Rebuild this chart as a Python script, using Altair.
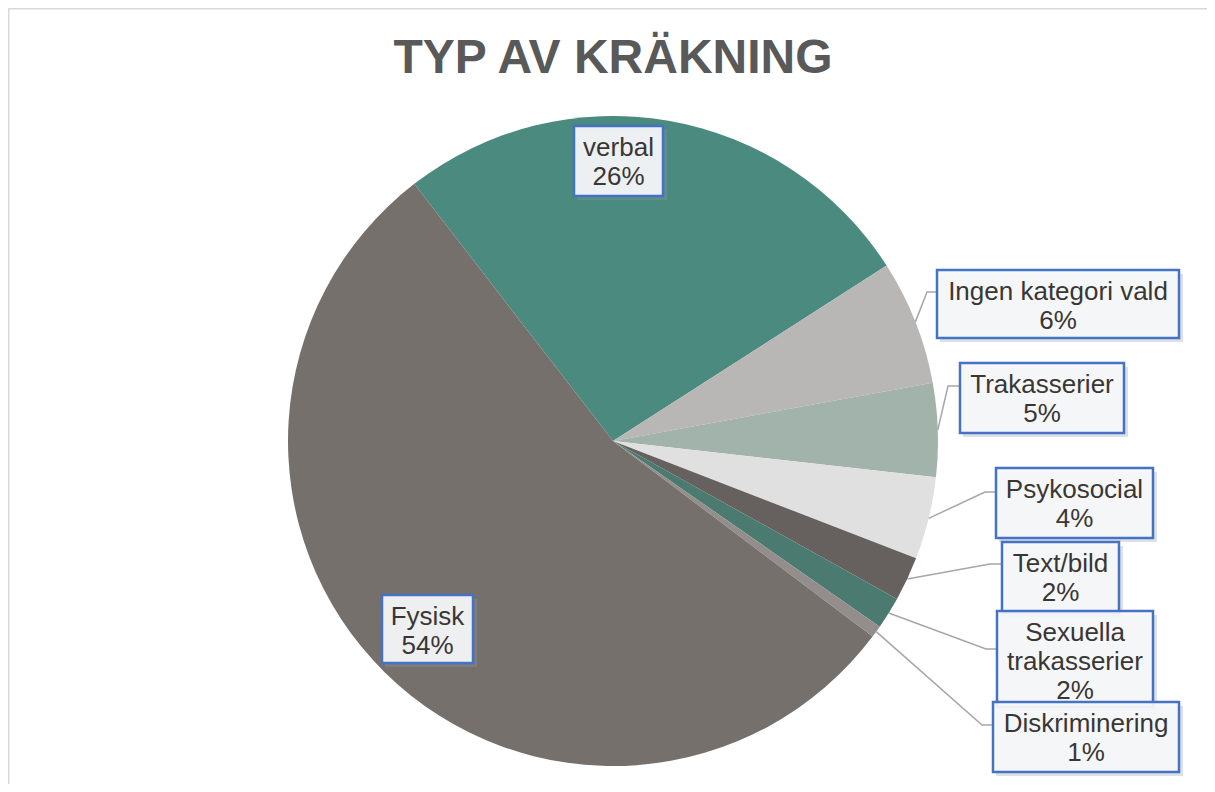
import math
import altair as alt
import pandas as pd

# ---------------- data ----------------
categories = ["verbal", "Ingen kategori vald", "Trakasserier", "Psykosocial",
              "Text/bild", "Sexuella trakasserier", "Diskriminering", "Fysisk"]
values = [26.4, 6.2, 4.65, 4.1, 2.2, 1.6, 0.6, 54.25]
label_lines = [["verbal"], ["Ingen kategori vald"], ["Trakasserier"], ["Psykosocial"],
               ["Text/bild"], ["Sexuella", "trakasserier"], ["Diskriminering"], ["Fysisk"]]
title_text = "TYP AV KRÄKNING"

# ---------------- styles / layout ----------------
colors = ["#4b8a7f", "#b9b7b5", "#a2b3ac", "#e0e0e0", "#66615e", "#4a7a70", "#938d8c", "#76706d"]
W, H = 1199, 776
CX, CY, R = 605, 433, 325
START_DEG = -37.7
FONT = "Liberation Sans"
TEXT_COLOR = "#3a3634"

# label boxes (chart px): x1, y1, x2, y2
box_layout = {
    "verbal": (566, 118, 655, 188),
    "Ingen kategori vald": (929, 262, 1171, 330),
    "Trakasserier": (952, 355, 1116, 425),
    "Psykosocial": (988, 460, 1145, 530),
    "Text/bild": (994, 534, 1111, 605),
    "Sexuella trakasserier": (989, 603, 1145, 699),
    "Diskriminering": (985, 694, 1171, 764),
    "Fysisk": (374, 587, 465, 655),
}
# leader line elbow and end points (chart px)
leader_layout = {
    "Ingen kategori vald": [(919, 284), (929, 284)],
    "Trakasserier": [(940, 378), (952, 378)],
    "Psykosocial": [(977, 484), (988, 484)],
    "Text/bild": [(982, 556), (994, 556)],
    "Sexuella trakasserier": [(978, 641), (989, 641)],
    "Diskriminering": [(974, 717), (985, 717)],
}

total = sum(values)
pct = [f"{round(v / total * 100)}%" for v in values]

pie_df = pd.DataFrame({"cat": categories, "value": values, "ord": list(range(len(categories)))})

# leader lines: start at slice mid-angle on the rim (derived from the data)
line_rows = []
cum = 0.0
for c, v in zip(categories, values):
    mid = math.radians(START_DEG + (cum + v / 2) / total * 360)
    cum += v
    if c in leader_layout:
        pts = [(CX + R * math.sin(mid), CY - R * math.cos(mid))] + leader_layout[c]
        for i, (px, py) in enumerate(pts):
            line_rows.append({"cat": c, "i": i, "x": px, "y": py})
lines_df = pd.DataFrame(line_rows)

box_rows, text_rows = [], []
for c, lines, p in zip(categories, label_lines, pct):
    x1, y1, x2, y2 = box_layout[c]
    box_rows.append({"cat": c, "x1": x1, "y1": y1, "x2": x2, "y2": y2,
                     "sx1": x1 + 3, "sy1": y1 + 4, "sx2": x2 + 4, "sy2": y2 + 4})
    for j, t in enumerate(lines + [p]):
        text_rows.append({"cat": c, "t": t, "x": (x1 + x2) / 2, "y": y1 + 30 + 29 * j})
box_df = pd.DataFrame(box_rows)
text_df = pd.DataFrame(text_rows)

start_rad = math.radians(START_DEG)
pie = alt.Chart(pie_df).mark_arc(outerRadius=R).encode(
    theta=alt.Theta("value:Q", stack=True,
                    scale=alt.Scale(range=[start_rad, start_rad + 2 * math.pi])),
    color=alt.Color("cat:N", scale=alt.Scale(domain=categories, range=colors), legend=None),
    order=alt.Order("ord:Q"),
    x=alt.value(CX), y=alt.value(CY),
)

leaders = alt.Chart(lines_df).mark_line(color="#a6a6a6", strokeWidth=1.5).encode(
    x=alt.X("x:Q", scale=None, axis=None),
    y=alt.Y("y:Q", scale=None, axis=None),
    detail="cat:N",
    order="i:Q",
)

layers = [pie, leaders]
for c in categories:
    bsel = alt.Chart(box_df).transform_filter(alt.datum.cat == c)
    shadow = bsel.mark_rect(fill="#8e97a8", opacity=0.3).encode(
        x=alt.X("sx1:Q", scale=None, axis=None), x2="sx2:Q",
        y=alt.Y("sy1:Q", scale=None, axis=None), y2="sy2:Q")
    box = bsel.mark_rect(fill="#f6f7fa", fillOpacity=0.93, stroke="#4472c4", strokeWidth=2.5).encode(
        x=alt.X("x1:Q", scale=None, axis=None), x2="x2:Q",
        y=alt.Y("y1:Q", scale=None, axis=None), y2="y2:Q")
    txt = alt.Chart(text_df).transform_filter(alt.datum.cat == c).mark_text(
        font=FONT, fontSize=26, color=TEXT_COLOR, align="center", baseline="alphabetic").encode(
        x=alt.X("x:Q", scale=None, axis=None),
        y=alt.Y("y:Q", scale=None, axis=None),
        text="t:N")
    layers += [shadow, box, txt]

title = alt.Chart(pd.DataFrame({"t": [title_text]})).mark_text(
    font=FONT, fontSize=48, fontWeight="bold", color="#595959",
    align="center", baseline="alphabetic").encode(
    x=alt.value(CX), y=alt.value(65), text="t:N")

border_left = alt.Chart(pd.DataFrame({"a": [0]})).mark_rule(color="#d9d9d9", strokeWidth=2).encode(
    x=alt.value(0.5), y=alt.value(0), y2=alt.value(H))
border_top = alt.Chart(pd.DataFrame({"a": [0]})).mark_rule(color="#d9d9d9", strokeWidth=2).encode(
    y=alt.value(0.5), x=alt.value(0), x2=alt.value(W))

chart = alt.layer(border_left, border_top, *layers, title).properties(
    width=W, height=H, autosize=alt.AutoSizeParams(type="none"), padding=0
).configure_view(stroke=None).resolve_scale(color="independent")

chart.save("out.html", embed_options={"renderer": "svg", "actions": False})
